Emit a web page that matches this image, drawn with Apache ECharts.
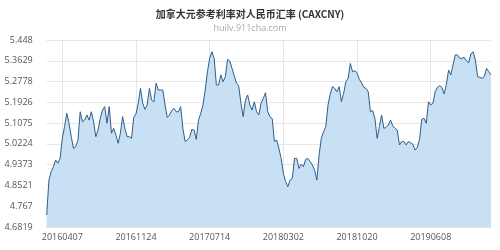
<!DOCTYPE html>
<html>
<head>
<meta charset="utf-8">
<script src="https://cdn.jsdelivr.net/npm/echarts@6/dist/echarts.min.js"></script>
<style>html,body{margin:0;padding:0;background:#fff;}#c{width:500px;height:250px;}</style>
</head>
<body>
<div id="c"></div>
<script>
var titleText = '加拿大元参考利率对人民币汇率 (CAXCNY)';
var subText = 'huilv.911cha.com';
var startDate = '2016-02-18'; // weekly samples
var xTickLabels = ['20160407','20161124','20170714','20180302','20181020','20190608'];
var yTickLabels = [4.6819,4.767,4.8521,4.9373,5.0224,5.1075,5.1926,5.2778,5.3629,5.448];
var rates = [
4.731,4.874,4.909,4.929,4.956,4.943,4.963,5.045,5.093,5.148,
5.107,5.052,5.004,5.011,5.038,5.154,5.113,5.120,5.141,5.120,
5.154,5.113,5.052,5.079,5.127,5.161,5.175,5.107,5.175,5.066,
5.086,5.059,5.025,5.066,5.134,5.086,5.052,5.052,5.045,5.131,
5.145,5.189,5.250,5.189,5.164,5.182,5.250,5.202,5.195,5.271,
5.243,5.243,5.243,5.182,5.131,5.141,5.159,5.168,5.154,5.154,
5.175,5.086,5.032,5.038,5.049,5.082,5.079,5.041,5.120,5.148,
5.182,5.243,5.318,5.373,5.400,5.373,5.264,5.264,5.305,5.277,
5.298,5.369,5.362,5.332,5.301,5.271,5.260,5.189,5.134,5.202,
5.223,5.182,5.161,5.195,5.154,5.141,5.189,5.209,5.232,5.154,
5.134,5.126,5.032,5.038,5.004,4.963,4.902,4.868,4.847,4.874,
4.881,4.963,4.963,4.922,4.940,4.929,4.959,4.963,4.950,4.936,
4.915,4.874,4.977,5.045,5.072,5.093,5.182,5.227,5.257,5.250,
5.236,5.257,5.195,5.230,5.277,5.291,5.352,5.318,5.322,5.314,
5.287,5.273,5.254,5.250,5.236,5.154,5.159,5.127,5.045,5.093,
5.141,5.086,5.090,5.100,5.120,5.096,5.086,5.079,5.018,5.032,
5.032,5.018,5.032,5.027,5.021,4.997,5.008,5.041,5.123,5.127,
5.107,5.195,5.182,5.189,5.236,5.254,5.261,5.254,5.227,5.266,
5.325,5.305,5.346,5.387,5.387,5.373,5.373,5.377,5.362,5.355,
5.391,5.400,5.366,5.298,5.295,5.291,5.298,5.332,5.318,5.305
];

// weekly date categories
var dates = [];
var times = [];
function ymdToUTC(s){ return Date.UTC(+s.slice(0,4), +s.slice(4,6)-1, +s.slice(6,8)); }
(function(){
  var t0 = ymdToUTC(startDate.replace(/-/g,''));
  for (var i = 0; i < rates.length; i++) {
    var t = t0 + i*7*86400000;
    var d = new Date(t);
    times.push(t);
    dates.push(d.getUTCFullYear() + ('0'+(d.getUTCMonth()+1)).slice(-2) + ('0'+d.getUTCDate()).slice(-2));
  }
})();
// index of the weekly sample nearest each tick date
var tickIndex = {};
xTickLabels.forEach(function(lbl){
  var t = ymdToUTC(lbl), best = 0;
  for (var i = 0; i < times.length; i++) if (Math.abs(times[i]-t) < Math.abs(times[best]-t)) best = i;
  tickIndex[best] = lbl;
});
function isTick(idx){ return tickIndex.hasOwnProperty(idx); }

var yMin = yTickLabels[0], yMax = yTickLabels[yTickLabels.length-1];
var chart = echarts.init(document.getElementById('c'), null, {renderer:'canvas'});
chart.setOption({
  animation: false,
  title: {
    text: titleText, subtext: subText, left: 'center', top: 4, itemGap: 5,
    textStyle: {fontSize: 10, fontWeight: 'bold', color: '#333', fontFamily: '"Noto Sans CJK SC", "Noto Sans", sans-serif'},
    subtextStyle: {fontSize: 9, color: '#aaa', fontFamily: '"Open Sans", "Noto Sans", sans-serif'}
  },
  grid: {left: 46.7, right: 9, top: 40, bottom: 23},
  xAxis: {
    type: 'category', data: dates, boundaryGap: false,
    axisLine: {show: true, lineStyle: {color: '#e3e3e3'}},
    axisTick: {show: false},
    axisLabel: {interval: function(i){return isTick(i);}, fontSize: 9, color: '#555', margin: 6, fontFamily: '"Open Sans", sans-serif',
      formatter: function(v, i){ return tickIndex.hasOwnProperty(i) ? tickIndex[i] : v; }},
    splitLine: {show: true, interval: function(i){return isTick(i);}, lineStyle: {color: '#e6e6e6', width: 1}}
  },
  yAxis: {
    type: 'value', min: yMin, max: yMax, interval: (yMax - yMin)/9,
    axisLine: {show: false}, axisTick: {show: false},
    axisLabel: {fontSize: 9, color: '#555', margin: 14, fontFamily: '"Open Sans", sans-serif',
      formatter: function(v){
        var best = yTickLabels[0];
        for (var k=0;k<yTickLabels.length;k++){ if (Math.abs(yTickLabels[k]-v) < Math.abs(best-v)) best = yTickLabels[k]; }
        return String(best);
      }},
    splitLine: {show: true, lineStyle: {color: '#e6e6e6', width: 1}}
  },
  series: [{
    type: 'line', data: rates, symbol: 'none', smooth: false,
    lineStyle: {color: '#2f5d8a', width: 1},
    areaStyle: {color: '#c8e0f4', opacity: 1}
  }]
});
</script>
</body>
</html>
